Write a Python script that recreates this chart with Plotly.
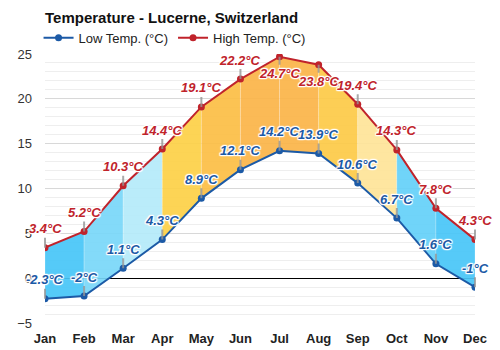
import plotly.graph_objects as go

months = ["Jan", "Feb", "Mar", "Apr", "May", "Jun",
          "Jul", "Aug", "Sep", "Oct", "Nov", "Dec"]
low_temp = [-2.3, -2, 1.1, 4.3, 8.9, 12.1, 14.2, 13.9, 10.6, 6.7, 1.6, -1]
high_temp = [3.4, 5.2, 10.3, 14.4, 19.1, 22.2, 24.7, 23.8, 19.4, 14.3, 7.8, 4.3]
# fill colour of the band between one month and the next
band_colors = ["rgba(70,198,247,0.92)", "rgba(120,215,248,0.92)",
               "rgba(180,234,250,0.92)", "rgba(253,208,70,0.92)",
               "rgba(252,190,68,0.92)", "rgba(251,180,72,0.92)",
               "rgba(251,180,72,0.92)", "rgba(253,202,70,0.92)",
               "rgba(254,228,152,0.92)", "rgba(100,208,248,0.92)",
               "rgba(72,198,247,0.92)"]
# months whose high label sits under the point
high_below = {"Jul", "Aug"}

LOW_COLOR = "#1c5aa6"
HIGH_COLOR = "#c0232b"
FONT = "Liberation Sans, Arial, sans-serif"

x = list(range(len(months)))
fig = go.Figure()

for i, col in enumerate(band_colors):
    fig.add_trace(go.Scatter(
        x=[x[i], x[i + 1], x[i + 1], x[i], x[i]],
        y=[high_temp[i], high_temp[i + 1], low_temp[i + 1], low_temp[i], high_temp[i]],
        fill="toself", fillcolor=col, mode="lines",
        line=dict(width=0.6, color="rgba(255,255,255,0.35)"),
        showlegend=False, hoverinfo="skip"))

fig.add_trace(go.Scatter(
    x=x, y=low_temp, name="Low Temp. (°C)", mode="lines+markers",
    line=dict(color=LOW_COLOR, width=2),
    marker=dict(color=LOW_COLOR, size=7, symbol="circle")))
fig.add_trace(go.Scatter(
    x=x, y=high_temp, name="High Temp. (°C)", mode="lines+markers",
    line=dict(color=HIGH_COLOR, width=2),
    marker=dict(color=HIGH_COLOR, size=7, symbol="circle")))

halo = ("1px 1px 1px #fff, -1px -1px 1px #fff, 1px -1px 1px #fff, "
        "-1px 1px 1px #fff, 0 1px 1px #fff, 0 -1px 1px #fff, 1px 0 1px #fff, -1px 0 1px #fff")


def fmt(v):
    return f"{v:g}°C"


annotations = []
for i, m in enumerate(months):
    for vals, col, below in ((low_temp, LOW_COLOR, False),
                             (high_temp, HIGH_COLOR, m in high_below)):
        annotations.append(dict(
            x=x[i], y=vals[i], xref="x", yref="y", text=fmt(vals[i]),
            showarrow=True, arrowhead=0, arrowwidth=2,
            arrowcolor="rgba(150,150,150,0.8)", ax=0, ay=17 if below else -19,
            standoff=0,
            font=dict(family=FONT, size=13, color=col, weight="bold",
                      style="italic", shadow=halo)))

fig.update_layout(
    width=500, height=350,
    margin=dict(l=45, r=25, t=54, b=27),
    paper_bgcolor="white", plot_bgcolor="white",
    font=dict(family=FONT, size=13, color="#333"),
    title=dict(text="<b>Temperature - Lucerne, Switzerland</b>",
               x=0, xref="paper", xanchor="left", y=0.95, yanchor="middle",
               font=dict(family=FONT, size=15, color="#111")),
    legend=dict(orientation="h", x=-0.015, xanchor="left", y=1.06,
                yanchor="middle", bgcolor="rgba(0,0,0,0)",
                font=dict(family=FONT, size=13, color="#222")),
    xaxis=dict(range=[0, 11], tickvals=x, ticktext=months,
               showgrid=False, zeroline=False, showline=False,
               ticklabelstandoff=6, automargin=False,
               tickfont=dict(family=FONT, size=13, color="#222", weight="bold")),
    yaxis=dict(range=[-5, 25], tickvals=[-5, 0, 5, 10, 15, 20, 25],
               showgrid=True, gridcolor="#d8d8d8", gridwidth=1,
               zeroline=True, zerolinecolor="#000", zerolinewidth=1,
               showline=False, ticklabelstandoff=12, automargin=False,
               tickfont=dict(family=FONT, size=13, color="#333"),
               minor=dict(dtick=1, showgrid=True, gridcolor="#eeeeee")),
    annotations=annotations,
    showlegend=True,
)

fig.write_html("out.html")
